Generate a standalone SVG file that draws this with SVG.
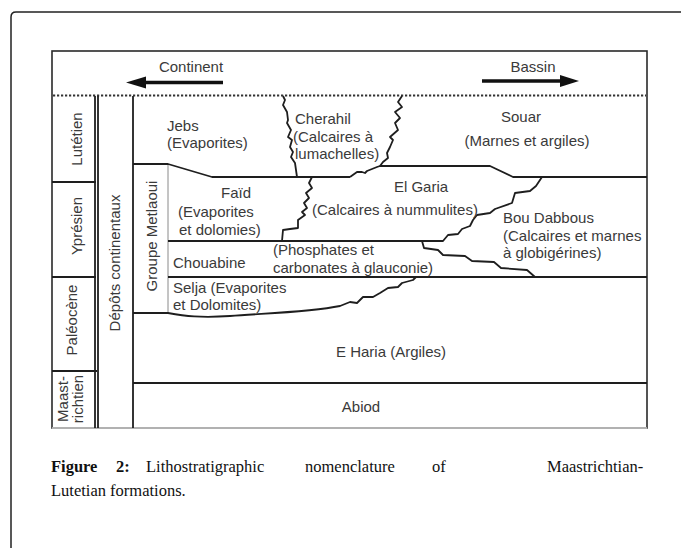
<svg xmlns="http://www.w3.org/2000/svg" width="681" height="548" viewBox="0 0 681 548">
<style>
.ln{fill:none;stroke:#1e1e1e;stroke-width:1.8;stroke-linejoin:round}
.thin{fill:none;stroke:#8a8a8a;stroke-width:1}
.lb{font-family:"Liberation Sans",Arial,sans-serif;font-size:15px;fill:#3a3a3a}
.mid{text-anchor:middle}
.cap{font-family:"Liberation Serif","Times New Roman",serif;font-size:16.5px;fill:#111}
.capb{font-weight:bold}
</style>
<rect width="681" height="548" fill="#fff"/>
<path d="M11,548 V17 Q11,12 16,12 H681" fill="none" stroke="#222" stroke-width="1.5"/>
<g id="chart">
<rect x="52" y="51" width="595" height="377" fill="#fff" stroke="#2a2a2a" stroke-width="1.6"/>
<line x1="52" y1="428" x2="647" y2="428" stroke="#d0d0d0" stroke-width="1.5"/>
<line x1="53" y1="95.5" x2="646" y2="95.5" stroke="#333" stroke-width="2" stroke-dasharray="2.2 1.8"/>
</g>
<g id="arrows">
<line x1="223" y1="82.5" x2="142" y2="82.5" stroke="#111" stroke-width="3.6"/>
<polygon points="126,82.5 146,76.5 146,88.5" fill="#111"/>
<line x1="482" y1="81" x2="563" y2="81" stroke="#111" stroke-width="3.6"/>
<polygon points="579,81 560,75 560,87" fill="#111"/>
<text class="lb mid" x="191" y="72">Continent</text>
<text class="lb mid" x="533" y="72">Bassin</text>
</g>
<g id="stages">
<line class="ln" x1="95" y1="96" x2="95" y2="428"/>
<line class="ln" x1="98" y1="96" x2="98" y2="428"/>
<line class="ln" x1="52" y1="182" x2="96" y2="182"/>
<line class="ln" x1="52" y1="277" x2="96" y2="277"/>
<line class="ln" x1="52" y1="371" x2="97" y2="371"/>
<text class="lb mid" transform="translate(82,139) rotate(-90)">Lutétien</text>
<text class="lb mid" transform="translate(82,226) rotate(-90)">Yprésien</text>
<text class="lb mid" transform="translate(77,320) rotate(-90)">Paléocène</text>
<text class="lb mid" transform="translate(68,399) rotate(-90)">Maast-</text>
<text class="lb mid" transform="translate(83,399) rotate(-90)">richtien</text>
</g>
<g id="depots">
<line class="ln" x1="133" y1="96" x2="133" y2="428"/>
<text class="lb mid" transform="translate(120,263) rotate(-90)">Dépôts continentaux</text>
</g>
<g id="groupe-metlaoui">
<line class="thin" x1="168" y1="164" x2="168" y2="313"/>
<text class="lb mid" transform="translate(157,236) rotate(-90)">Groupe Metlaoui</text>
</g>
<g id="boundaries">
<path class="ln" d="M133,164 H168 L212,177 H350"/>
<path class="ln" d="M283,96 L285,100 L283,105 L287,112 L288,120 L287,123 L291,130 L288,137 L292,140 L290,147 L293,152 L291,157 L295,163 L297,177"/>
<path class="ln" d="M402,96 L398,102 L402,107 L395,112 L400,118 L395,123 L398,130 L390,137 L393,140 L390,147 L387,153 L388,158 L383,162 L380,166"/>
<path class="ln" d="M350,177 L357,172 L362,172 L365,173 L367,171 L372,169 L377,167 L380,166 H490 L513,177 H647"/>
<path class="ln" d="M312,177 L309,183 L312,188 L306,193 L309,198 L304,203 L307,208 L302,212 L305,215 L298,220 L298,228 L290,229 L283,230 L282,241"/>
<path class="ln" d="M168,241 H443 L448,235 L458,234 L462,229 L470,226 L473,220 L477,215 L490,213 L495,209 L512,203 L515,193 L530,191 L536,186 L542,177"/>
<path class="ln" d="M422,241 L424,248 L438,250 L443,255 L465,256 L472,261 L494,262 L501,268 L527,270 L535,277"/>
<path class="ln" d="M168,277 H647"/>
<path class="ln" d="M133,313 H168 C185,316 200,318 230,316 C270,313 310,312 340,306 L350,302 L357,303 L363,297 L373,297 L380,293 L388,288 L398,287 L402,283 L413,280 L416,277"/>
<path class="ln" d="M133,383 H647"/>
</g>
<g id="jebs"><text class="lb" x="167" y="131">Jebs</text><text class="lb" x="167" y="148">(Evaporites)</text></g>
<g id="cherahil"><text class="lb" x="295" y="124">Cherahil</text><text class="lb" x="293" y="142">(Calcaires à</text><text class="lb" x="295" y="159">lumachelles)</text></g>
<g id="souar"><text class="lb mid" x="521" y="122">Souar</text><text class="lb mid" x="527" y="146">(Marnes et argiles)</text></g>
<g id="faid"><text class="lb mid" x="236" y="198">Faïd</text><text class="lb" x="178" y="217">(Evaporites</text><text class="lb" x="179" y="235">et dolomies)</text></g>
<g id="el-garia"><text class="lb mid" x="421" y="192">El Garia</text><text class="lb" x="312" y="215">(Calcaires à nummulites)</text></g>
<g id="bou-dabbous"><text class="lb" x="503" y="223">Bou Dabbous</text><text class="lb" x="503" y="241">(Calcaires et marnes</text><text class="lb" x="503" y="258">à globigérines)</text></g>
<g id="chouabine"><text class="lb" x="173" y="268">Chouabine</text><text class="lb" x="273" y="255">(Phosphates et</text><text class="lb" x="273" y="273">carbonates à glauconie)</text></g>
<g id="selja"><text class="lb" x="173" y="293">Selja (Evaporites</text><text class="lb" x="173" y="310">et Dolomites)</text></g>
<g id="el-haria"><text class="lb mid" x="391" y="357">E Haria (Argiles)</text></g>
<g id="abiod"><text class="lb mid" x="361" y="412">Abiod</text></g>
<g id="caption">
<text class="cap" y="472"><tspan class="capb" x="51">Figure</tspan><tspan class="capb" x="116">2:</tspan><tspan x="146">Lithostratigraphic</tspan><tspan x="305">nomenclature</tspan><tspan x="432">of</tspan><tspan x="547">Maastrichtian-</tspan></text>
<text class="cap" x="51" y="496">Lutetian formations.</text>
</g>
</svg>
